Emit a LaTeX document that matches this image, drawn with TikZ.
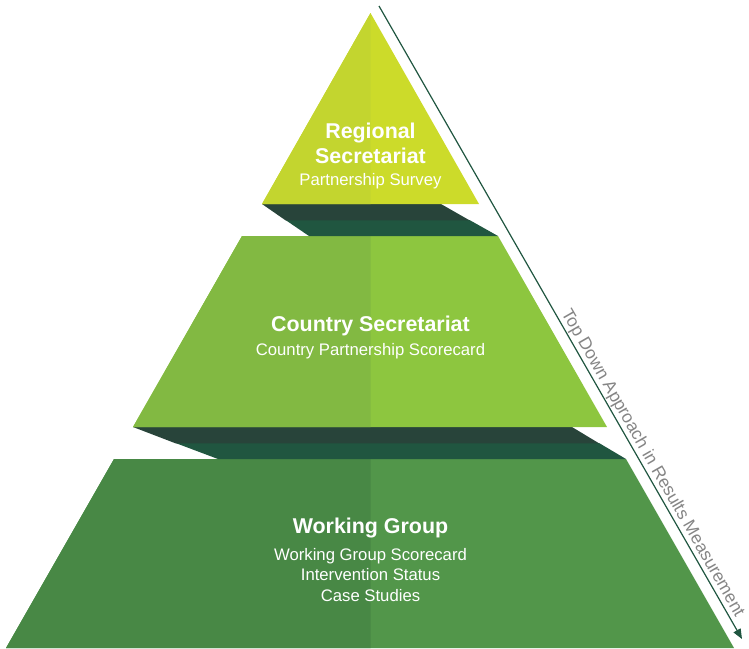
\documentclass[tikz,border=0pt]{standalone}
\usepackage{fontspec}
\setmainfont{Liberation Sans}
\usetikzlibrary{arrows.meta}
\definecolor{regionalleft}{HTML}{C3D52F}
\definecolor{regionalright}{HTML}{CCDB2A}
\definecolor{countryleft}{HTML}{82B942}
\definecolor{countryright}{HTML}{8DC63F}
\definecolor{groupleft}{HTML}{488845}
\definecolor{groupright}{HTML}{52964A}
\definecolor{bandupper}{HTML}{28443A}
\definecolor{bandlower}{HTML}{205640}
\definecolor{labelgray}{HTML}{858585}

\begin{document}
\begin{tikzpicture}[x=1pt,y=-1pt,
    tier_title/.style={text=white,font=\fontsize{21.4}{25}\selectfont\bfseries,align=center},
    tier_text/.style={text=white,font=\fontsize{16.7}{20.5}\selectfont,align=center},
    band_upper/.style={fill=bandupper},
    band_lower/.style={fill=bandlower},
    approach_arrow/.style={draw=bandlower,line width=1.2pt,-{Triangle[length=10pt,width=8pt]}},
    approach_label/.style={text=labelgray,font=\fontsize{17.5}{20}\selectfont,inner sep=1pt}]
  \useasboundingbox (0,0) rectangle (749,648);
  % bottom tier
  \fill[groupright] (114,459) -- (626,459) -- (734,648) -- (6,648) -- cycle;
  \fill[groupleft] (114,459) -- (370.5,459) -- (370.5,648) -- (6,648) -- cycle;
  % band under country tier
  \fill[band_lower] (175.5,443) -- (599,443) -- (626,459) -- (218,459) -- cycle;
  \fill[band_upper] (133,427) -- (572,427) -- (599,443.3) -- (175.5,443.3) -- cycle;
  % middle tier
  \fill[countryright] (242,236) -- (498,236) -- (607,427) -- (133,427) -- cycle;
  \fill[countryleft] (242,236) -- (370.5,236) -- (370.5,427) -- (133,427) -- cycle;
  % band under regional tier
  \fill[band_lower] (285.5,220) -- (469.5,220) -- (498,236) -- (309,236) -- cycle;
  \fill[band_upper] (262,204) -- (441,204) -- (469.5,220.3) -- (285.5,220.3) -- cycle;
  % top tier
  \fill[regionalright] (370.5,13) -- (479,204) -- (262,204) -- cycle;
  \fill[regionalleft] (370.5,13) -- (370.5,204) -- (262,204) -- cycle;
  % labels
  \node[tier_title] (regional) at (370.5,143.5) {Regional\\Secretariat};
  \node[tier_text] (regional_sub) at (370.5,181) {Partnership Survey};
  \node[tier_title] (country) at (370.5,326) {Country Secretariat};
  \node[tier_text] (country_sub) at (370.5,351) {Country Partnership Scorecard};
  \node[tier_title] (group) at (370.5,528) {Working Group};
  \node[tier_text] (group_sub) at (370.5,575) {Working Group Scorecard\\Intervention Status\\Case Studies};
  % top down arrow
  \coordinate (approach_start) at (379,6);
  \coordinate (approach_end) at (742,639);
  \draw[approach_arrow] (approach_start) -- (approach_end)
    node[approach_label,pos=0.73,sloped,above] (approach) {Top Down Approach in Results Measurement};
\end{tikzpicture}
\end{document}
